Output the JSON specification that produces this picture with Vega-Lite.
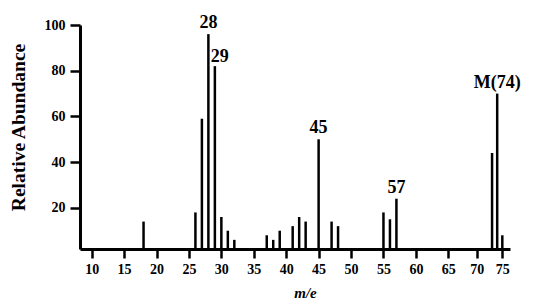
{
  "$schema": "https://vega.github.io/schema/vega-lite/v6.json",
  "width": 430,
  "height": 224,
  "autosize": "none",
  "padding": {"left": 80, "top": 25, "right": 23, "bottom": 57},
  "background": "white",
  "config": {
    "view": {"stroke": null},
    "font": "Liberation Serif"
  },
  "data": {
    "values": [
      {"mz": 18, "abundance": 14, "label": ""},
      {"mz": 26, "abundance": 18, "label": ""},
      {"mz": 27, "abundance": 59, "label": ""},
      {"mz": 28, "abundance": 96, "label": "28"},
      {"mz": 29, "abundance": 82, "label": "29"},
      {"mz": 30, "abundance": 16, "label": ""},
      {"mz": 31, "abundance": 10, "label": ""},
      {"mz": 32, "abundance": 6, "label": ""},
      {"mz": 37, "abundance": 8, "label": ""},
      {"mz": 38, "abundance": 6, "label": ""},
      {"mz": 39, "abundance": 10, "label": ""},
      {"mz": 41, "abundance": 12, "label": ""},
      {"mz": 42, "abundance": 16, "label": ""},
      {"mz": 43, "abundance": 14, "label": ""},
      {"mz": 45, "abundance": 50, "label": "45"},
      {"mz": 47, "abundance": 14, "label": ""},
      {"mz": 48, "abundance": 12, "label": ""},
      {"mz": 55, "abundance": 18, "label": ""},
      {"mz": 56, "abundance": 15, "label": ""},
      {"mz": 57, "abundance": 24, "label": "57"},
      {"mz": 73, "abundance": 44, "label": ""},
      {"mz": 74, "abundance": 70, "label": "M(74)"},
      {"mz": 75, "abundance": 8, "label": ""}
    ]
  },
  "encoding": {
    "x": {
      "field": "mz",
      "type": "quantitative",
      "scale": {"domain": [8.2, 65, 70, 76.5], "range": [0, 368.3, 396.7, 430], "nice": false, "zero": false},
      "axis": {
        "title": "m/e",
        "values": [10, 15, 20, 25, 30, 35, 40, 45, 50, 55, 60, 65, 70, 75],
        "grid": false,
        "domainColor": "black",
        "domainWidth": 3,
        "tickColor": "black",
        "tickWidth": 2.5,
        "tickSize": 9,
        "labelPadding": 4,
        "labelFont": "Liberation Serif",
        "labelFontSize": 14,
        "labelFontWeight": "bold",
        "labelColor": "black",
        "labelFlush": false,
        "titleFont": "Liberation Serif",
        "titleFontSize": 15,
        "titleFontWeight": "bold",
        "titleFontStyle": "italic",
        "titleColor": "black",
        "titleX": 225,
        "titleY": 43,
        "titleBaseline": "middle",
        "titleAlign": "center"
      }
    },
    "y": {
      "field": "abundance",
      "type": "quantitative",
      "scale": {"domain": [2, 100], "nice": false, "zero": false},
      "axis": {
        "title": "Relative Abundance",
        "values": [20, 40, 60, 80, 100],
        "grid": false,
        "domainColor": "black",
        "domainWidth": 3,
        "tickColor": "black",
        "tickWidth": 2.5,
        "tickSize": 10,
        "labelPadding": 5,
        "labelFont": "Liberation Serif",
        "labelFontSize": 14,
        "labelFontWeight": "bold",
        "labelColor": "black",
        "labelFlush": false,
        "titleFont": "Liberation Serif",
        "titleFontSize": 19.5,
        "titleFontWeight": "bold",
        "titleColor": "black",
        "titleAngle": -90,
        "titleX": -62,
        "titleY": 102,
        "titleBaseline": "middle",
        "titleAlign": "center"
      }
    }
  },
  "layer": [
    {
      "mark": {"type": "rule", "color": "black", "strokeWidth": 2.5},
      "encoding": {"y2": {"datum": 2}}
    },
    {
      "transform": [{"filter": "datum.label != '' && datum.label != '29'"}],
      "mark": {"type": "text", "font": "Liberation Serif", "fontSize": 18, "fontWeight": "bold", "color": "black", "baseline": "alphabetic", "align": "center", "dy": -6, "clip": false},
      "encoding": {"text": {"field": "label"}}
    },
    {
      "transform": [{"filter": "datum.label == '29'"}],
      "mark": {"type": "text", "font": "Liberation Serif", "fontSize": 18, "fontWeight": "bold", "color": "black", "baseline": "alphabetic", "align": "center", "dx": 5, "dy": -4, "clip": false},
      "encoding": {"text": {"field": "label"}}
    }
  ]
}
